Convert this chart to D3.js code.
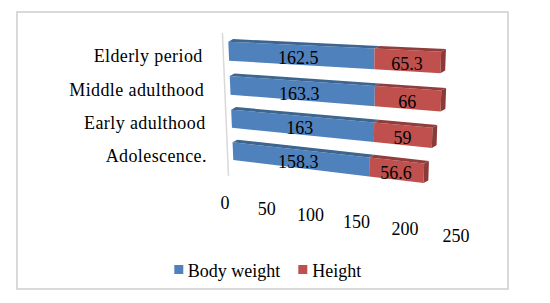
<!DOCTYPE html>
<html><head><meta charset="utf-8">
<script src="https://cdn.jsdelivr.net/npm/d3@7"></script>
<style>body{margin:0;background:#fff} svg{display:block}</style>
</head><body><svg id="c" width="550" height="303" font-family="'Liberation Serif', 'Times New Roman', Times, serif"></svg>
<script>
// ---- data ----
const categories = ["Elderly period","Middle adulthood","Early adulthood","Adolescence."];
const bodyWeight = [162.5, 163.3, 163, 158.3];
const heightVals = [65.3, 66, 59, 56.6];
const seriesNames = ["Body weight","Height"];
const tickValues = [0, 50, 100, 150, 200, 250];

// ---- style ----
const frontCol = ["#4f81bd","#c0504d"];
const topCol   = ["#3c6590","#913d3b"];
const sideCol  = ["#38608c","#8c3a38"];
const FONT = "'Liberation Serif', 'Times New Roman', Times, serif";

const svg = d3.select("#c");
svg.append("rect").attr("x",17).attr("y",12).attr("width",491).attr("height",277)
  .attr("fill","#fff").attr("stroke","#d9d9d9").attr("stroke-width",2);

// scales: value -> plane u (0..1), category -> plane w (band)
const x = d3.scaleLinear().domain([0,250]).range([0,1]);
const y = d3.scaleBand().domain(categories).range([0,3.55]).paddingInner(0.45).paddingOuter(0);

// perspective (homography) from plane (u,w) to screen
function homography(src,dst){
  const A=[],b=[];
  for(let i=0;i<4;i++){
    const [u,w]=src[i],[X,Y]=dst[i];
    A.push([u,w,1,0,0,0,-u*X,-w*X]); b.push(X);
    A.push([0,0,0,u,w,1,-u*Y,-w*Y]); b.push(Y);
  }
  const n=8;
  for(let c=0;c<n;c++){
    let p=c; for(let r=c+1;r<n;r++) if(Math.abs(A[r][c])>Math.abs(A[p][c])) p=r;
    [A[c],A[p]]=[A[p],A[c]]; [b[c],b[p]]=[b[p],b[c]];
    for(let r=0;r<n;r++){ if(r===c) continue; const f=A[r][c]/A[c][c];
      for(let k=c;k<n;k++) A[r][k]-=f*A[c][k]; b[r]-=f*b[c]; }
  }
  const h=b.map((v,i)=>v/A[i][i]);
  return (u,w)=>{const d=h[6]*u+h[7]*w+1; return [(h[0]*u+h[1]*w+h[2])/d,(h[3]*u+h[4]*w+h[5])/d];};
}
const P = homography([[0,0],[0,3.55],[1,0],[1,3.55]],
                     [[228.3,41.7],[233.3,160],[465,52.8],[459,187.4]]);
const depth = [4.8,-2.6];
const add = (p)=>[p[0]+depth[0],p[1]+depth[1]];

// back wall edge
const wallTop = P(0,-0.25), wallBot = P(0,4.05);
svg.append("line").attr("x1",wallTop[0]-5.5).attr("y1",wallTop[1]).attr("x2",wallBot[0]-5.5).attr("y2",wallBot[1])
  .attr("stroke","#d9d9d9").attr("stroke-width",1.5);

// stacked data
const table = categories.map((c,i)=>({cat:c, bw:bodyWeight[i], ht:heightVals[i]}));
const stacked = d3.stack().keys(["bw","ht"])(table);
const poly = pts => "M"+pts.map(p=>p.join(",")).join("L")+"Z";

const bars = svg.append("g");
table.forEach((row,i)=>{
  const wt = y(row.cat), wb = wt + y.bandwidth();
  stacked.forEach((ser,s)=>{
    const [v0,v1] = ser[i];
    const u0=x(v0), u1=x(v1);
    const a=P(u0,wt), b=P(u1,wt), c=P(u1,wb), d=P(u0,wb);
    bars.append("path").attr("d",poly([a,b,c,d])).attr("fill",frontCol[s]);
    bars.append("path").attr("d",poly([a,b,add(b),add(a)])).attr("fill",topCol[s]);
    if(s===stacked.length-1)
      bars.append("path").attr("d",poly([b,add(b),add(c),c])).attr("fill",sideCol[s]);
    const m = P((u0+u1)/2,(wt+wb)/2);
    bars.append("text").attr("x",m[0]).attr("y",m[1]+9).attr("text-anchor","middle")
      .attr("font-family",FONT).attr("font-size",18).attr("fill","#000").text(row[ser.key]);
  });
  const l = P(0,(wt+wb)/2);
  svg.append("text").attr("x",l[0]-26).attr("y",l[1]+10.5).attr("text-anchor","end")
    .attr("font-family",FONT).attr("font-size",18).attr("letter-spacing",0.4).attr("fill","#000").text(row.cat);
});

// value axis labels along the floor front edge
tickValues.forEach(t=>{
  const u=x(t), p=P(u,4.85);
  svg.append("text").attr("x",p[0]-9*(1-u)-1).attr("y",p[1]+8.5).attr("text-anchor","middle")
    .attr("font-family",FONT).attr("font-size",18).attr("fill","#000").text(t);
});

// legend
const lg = svg.append("g");
[[174.3,187.7],[298.3,312.3]].forEach(([rx,tx],s)=>{
  lg.append("rect").attr("x",rx).attr("y",265).attr("width",9).attr("height",9).attr("fill",frontCol[s]);
  lg.append("text").attr("x",tx).attr("y",276.7).attr("font-family",FONT).attr("font-size",18)
    .attr("fill","#000").text(seriesNames[s]);
});
</script></body></html>
